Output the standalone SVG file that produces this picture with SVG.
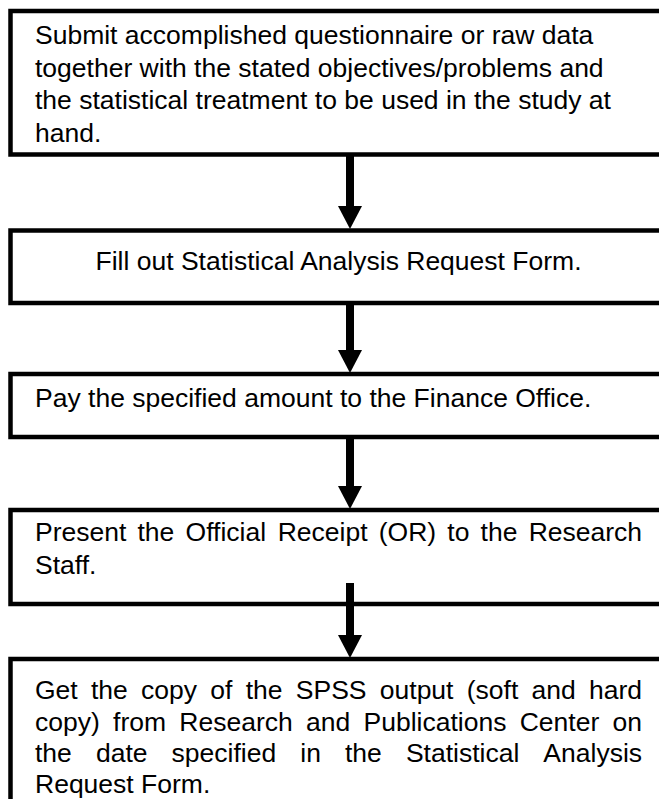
<svg xmlns="http://www.w3.org/2000/svg" width="659" height="799" viewBox="0 0 659 799">
<style>
.box{fill:#fff;stroke:#000;stroke-width:4.5}
.t{font-family:"Liberation Sans",Arial,sans-serif;font-size:26.5px;fill:#000}
.shaft{stroke:#000;stroke-width:8;fill:none}
.head{fill:#000}
</style>
<rect width="659" height="799" fill="#fff"/>
<g id="node1">
<rect class="box" x="10.5" y="11" width="700" height="143.5"/>
<text class="t" x="35" y="44">Submit accomplished questionnaire or raw data</text>
<text class="t" x="35" y="76.5">together with the stated objectives/problems and</text>
<text class="t" x="35" y="109">the statistical treatment to be used in the study at</text>
<text class="t" x="35" y="141.5">hand.</text>
</g>
<g id="node2">
<rect class="box" x="10.5" y="230.5" width="700" height="72.5"/>
<text class="t" x="338.5" y="269.5" text-anchor="middle">Fill out Statistical Analysis Request Form.</text>
</g>
<g id="node3">
<rect class="box" x="10.5" y="374" width="700" height="63"/>
<text class="t" x="35" y="407">Pay the specified amount to the Finance Office.</text>
</g>
<g id="node4">
<rect class="box" x="10.5" y="510" width="700" height="94"/>
<text class="t" y="541"><tspan x="35">Present</tspan><tspan x="137.51">the</tspan><tspan x="185.54">Official</tspan><tspan x="277.71">Receipt</tspan><tspan x="378.74">(OR)</tspan><tspan x="447.33">to</tspan><tspan x="480.62">the</tspan><tspan x="528.65">Research</tspan></text>
<text class="t" x="35" y="574">Staff.</text>
</g>
<g id="node5">
<rect class="box" x="10.5" y="659" width="700" height="200"/>
<text class="t" y="699"><tspan x="35">Get</tspan><tspan x="91">the</tspan><tspan x="141.11">copy</tspan><tspan x="210.35">of</tspan><tspan x="245.72">the</tspan><tspan x="295.83">SPSS</tspan><tspan x="379.8">output</tspan><tspan x="466.74">(soft</tspan><tspan x="531.55">and</tspan><tspan x="589.02">hard</tspan></text>
<text class="t" y="730.5"><tspan x="35">copy)</tspan><tspan x="113.08">from</tspan><tspan x="179.37">Research</tspan><tspan x="306.05">and</tspan><tspan x="363.54">Publications</tspan><tspan x="519.69">Center</tspan><tspan x="612.51">on</tspan></text>
<text class="t" y="762"><tspan x="35">the</tspan><tspan x="95.93">date</tspan><tspan x="171.59">specified</tspan><tspan x="300.25">in</tspan><tspan x="344.96">the</tspan><tspan x="405.89">Statistical</tspan><tspan x="543.37">Analysis</tspan></text>
<text class="t" x="35" y="792.5">Request Form.</text>
</g>
<g id="connectors">
<line class="shaft" x1="350" y1="155" x2="350" y2="208"/>
<polygon class="head" points="338,206 362,206 350,229"/>
<line class="shaft" x1="350" y1="303" x2="350" y2="352"/>
<polygon class="head" points="338,350 362,350 350,373"/>
<line class="shaft" x1="350" y1="437" x2="350" y2="488"/>
<polygon class="head" points="338,486 362,486 350,509"/>
<line class="shaft" x1="350" y1="583" x2="350" y2="637"/>
<polygon class="head" points="338,635 362,635 350,658"/>
</g>
</svg>
